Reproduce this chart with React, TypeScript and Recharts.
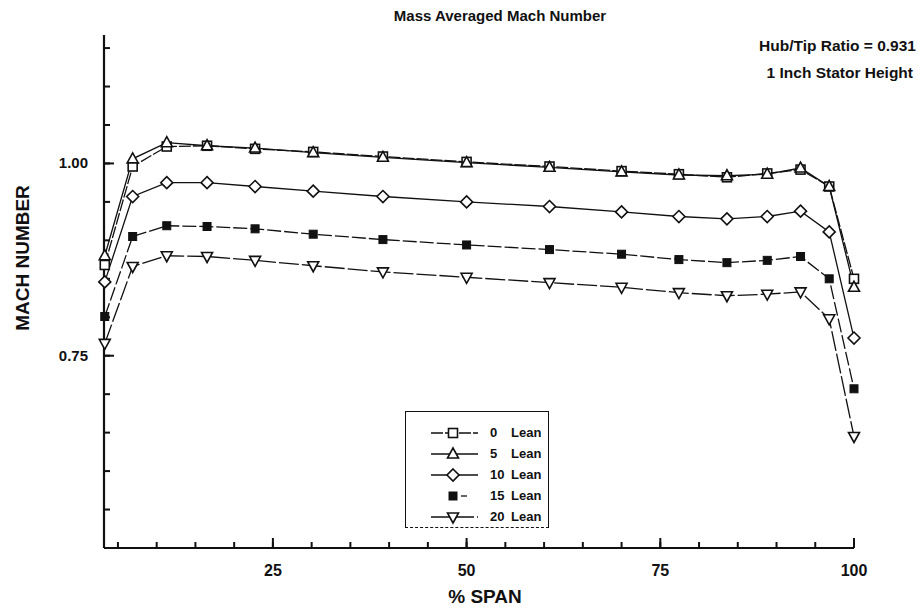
import React from "react"
import { LineChart, Line, XAxis, YAxis } from "recharts"

// % span stations along the stator
const span = [3.3, 6.9, 11.3, 16.5, 22.7, 30.2, 39.2, 50.0, 60.7, 70.0, 77.4, 83.6, 88.8, 93.1, 96.8, 100]

// mass averaged mach number per lean angle
const lean0 = [0.868, 0.996, 1.022, 1.023, 1.019, 1.015, 1.009, 1.002, 0.996, 0.99, 0.986, 0.982, 0.987, 0.992, 0.97, 0.85]
const lean5 = [0.88, 1.006, 1.027, 1.023, 1.02, 1.014, 1.008, 1.001, 0.995, 0.989, 0.985, 0.984, 0.986, 0.994, 0.97, 0.839]
const lean10 = [0.846, 0.957, 0.975, 0.975, 0.97, 0.964, 0.957, 0.95, 0.944, 0.937, 0.931, 0.928, 0.931, 0.938, 0.911, 0.773]
const lean15 = [0.801, 0.905, 0.919, 0.918, 0.915, 0.908, 0.901, 0.894, 0.888, 0.882, 0.875, 0.871, 0.874, 0.879, 0.85, 0.707]
const lean20 = [0.766, 0.866, 0.88, 0.879, 0.874, 0.867, 0.859, 0.852, 0.845, 0.839, 0.832, 0.828, 0.83, 0.833, 0.798, 0.645]

const xTicks = [5, 10, 15, 20, 25, 30, 35, 40, 45, 50, 55, 60, 65, 70, 75, 80, 85, 90, 95, 100]
const xLabels = [25, 50, 75, 100]
const yTicks = [0.55, 0.6, 0.65, 0.7, 0.75, 0.8, 0.85, 0.9, 0.95, 1.0, 1.05, 1.1, 1.15]
const yLabels = [0.75, 1.0]

const seriesKeys = ["lean0", "lean5", "lean10", "lean15", "lean20"]
const seriesNames = ["0 Lean", "5 Lean", "10 Lean", "15 Lean", "20 Lean"]

const styles: Record<string, { shape: string; dash?: string }> = {
  lean0: { shape: "square", dash: "12 2" },
  lean5: { shape: "up" },
  lean10: { shape: "diamond" },
  lean15: { shape: "filled", dash: "14 3" },
  lean20: { shape: "down", dash: "20 3" },
}

const data = span.map((s, i) => ({
  span: s,
  lean0: lean0[i],
  lean5: lean5[i],
  lean10: lean10[i],
  lean15: lean15[i],
  lean20: lean20[i],
}))

const INK = "#111"

function Marker({ shape, cx, cy }: { shape: string; cx: number; cy: number }) {
  const common = { stroke: INK, strokeWidth: 1.6, fill: "#fff" }
  if (shape === "square") return <rect x={cx - 4.5} y={cy - 4.5} width={9} height={9} {...common} />
  if (shape === "filled") return <rect x={cx - 4} y={cy - 4} width={8} height={8} fill={INK} stroke={INK} />
  if (shape === "diamond")
    return <polygon points={`${cx},${cy - 6} ${cx + 6},${cy} ${cx},${cy + 6} ${cx - 6},${cy}`} {...common} />
  if (shape === "up")
    return <polygon points={`${cx},${cy - 6} ${cx + 5.5},${cy + 4} ${cx - 5.5},${cy + 4}`} {...common} />
  return <polygon points={`${cx - 5.5},${cy - 4} ${cx + 5.5},${cy - 4} ${cx},${cy + 6}`} {...common} />
}

const makeDot = (shape: string) => (p: any) => {
  if (p.cx == null || p.cy == null) return <g key={p.key} />
  return (
    <g key={p.key}>
      <Marker shape={shape} cx={p.cx} cy={p.cy} />
    </g>
  )
}

// ticks point inward (tickSize is negative), labels only on the major ones
function XTick(props: any) {
  const x = Number(props.x)
  const y = Number(props.y)
  const v = props.payload.value
  if (!xLabels.includes(v)) return <g />
  return (
    <g>
      <path d={`M${x},${y + 6}V${y - 4}`} stroke={INK} strokeWidth={2} fill="none" />
      <text x={x} y={y + 34} textAnchor="middle" fontSize={16} fontWeight="bold" fill={INK}>
        {v}
      </text>
    </g>
  )
}

function YTick(props: any) {
  const x = Number(props.x)
  const y = Number(props.y)
  const v = props.payload.value
  if (!yLabels.some((l) => Math.abs(l - v) < 1e-6)) return <g />
  return (
    <g>
      <path d={`M${x - 6},${y}H${x + 4}`} stroke={INK} strokeWidth={2} fill="none" />
      <text x={x - 22} y={y + 5} textAnchor="end" fontSize={15} fontWeight="bold" fill={INK}>
        {v.toFixed(2)}
      </text>
    </g>
  )
}

function LegendBox() {
  return (
    <div
      style={{
        position: "absolute",
        left: 405,
        top: 411,
        width: 144,
        height: 117,
        border: `1px solid ${INK}`,
        borderBottom: `1px dashed ${INK}`,
        background: "#fff",
        boxSizing: "border-box",
        paddingTop: 10,
      }}
    >
      {seriesKeys.map((k, i) => {
        const [num, word] = seriesNames[i].split(" ")
        const st = styles[k]
        return (
          <div key={k} style={{ display: "flex", alignItems: "center", height: 21 }}>
            <svg width={70} height={20} style={{ marginLeft: 14 }}>
              {st.shape === "filled" ? (
                <line x1={41} y1={10} x2={47} y2={10} stroke={INK} strokeWidth={1.3} />
              ) : (
                <line x1={11} y1={10} x2={58} y2={10} stroke={INK} strokeWidth={1.3} strokeDasharray={st.dash} />
              )}
              <Marker shape={st.shape} cx={33} cy={10} />
            </svg>
            <span style={{ width: 21, fontSize: 13, fontWeight: "bold" }}>{num}</span>
            <span style={{ fontSize: 13, fontWeight: "bold" }}>{word}</span>
          </div>
        )
      })}
    </div>
  )
}

export default function App() {
  return (
    <div
      style={{
        position: "absolute",
        left: 0,
        top: 0,
        width: 924,
        height: 612,
        background: "#fff",
        fontFamily: "'Liberation Sans', Arial, sans-serif",
        color: INK,
      }}
    >
      <LineChart width={924} height={612} data={data} margin={{ top: 35, right: 70, bottom: 34, left: 44 }}>
        <XAxis
          dataKey="span"
          type="number"
          domain={[3.2, 100]}
          ticks={xTicks}
          interval={0}
          tickSize={-6}
          tickMargin={0}
          tickLine={{ stroke: INK, strokeWidth: 2 }}
          tick={<XTick />}
          height={30}
          axisLine={{ stroke: INK, strokeWidth: 2.2 }}
        />
        <YAxis
          type="number"
          domain={[0.5, 1.167]}
          ticks={yTicks}
          interval={0}
          tickSize={-6}
          tickMargin={0}
          tickLine={{ stroke: INK, strokeWidth: 2 }}
          tick={<YTick />}
          width={60}
          axisLine={{ stroke: INK, strokeWidth: 2.2 }}
        />
        {seriesKeys.map((k, i) => (
          <Line
            key={k}
            dataKey={k}
            name={seriesNames[i]}
            type="linear"
            stroke={INK}
            strokeWidth={1.3}
            strokeDasharray={styles[k].dash}
            dot={makeDot(styles[k].shape)}
            isAnimationActive={false}
          />
        ))}
        <text x={500} y={21} textAnchor="middle" fontSize={15} fontWeight="bold" fill={INK}>
          Mass Averaged Mach Number
        </text>
        <text x={916} y={51} textAnchor="end" fontSize={15.5} fontWeight="bold" fill={INK}>
          Hub/Tip Ratio = 0.931
        </text>
        <text x={913} y={78} textAnchor="end" fontSize={15.5} fontWeight="bold" fill={INK}>
          1 Inch Stator Height
        </text>
        <text
          x={29}
          y={258}
          transform="rotate(-90 29 258)"
          textAnchor="middle"
          fontSize={19}
          fontWeight="bold"
          fill={INK}
        >
          MACH NUMBER
        </text>
        <text x={485} y={603} textAnchor="middle" fontSize={19} fontWeight="bold" fill={INK}>
          % SPAN
        </text>
      </LineChart>
      <LegendBox />
    </div>
  )
}
